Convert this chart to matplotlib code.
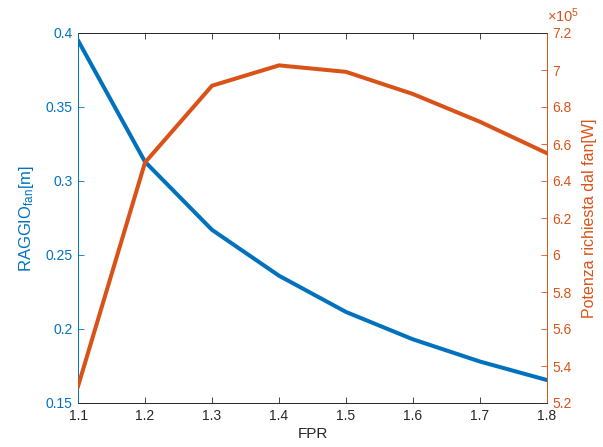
import matplotlib
matplotlib.use("Agg")
import matplotlib.pyplot as plt
from matplotlib.ticker import FuncFormatter, MultipleLocator

plt.rcParams['font.family'] = ['Liberation Sans', 'DejaVu Sans']
plt.rcParams['mathtext.fontset'] = 'custom'
plt.rcParams['mathtext.rm'] = 'Liberation Sans'
plt.rcParams['mathtext.it'] = 'Liberation Sans:italic'

fpr = [1.1, 1.2, 1.3, 1.4, 1.5, 1.6, 1.7, 1.8]
raggio = [0.395, 0.313, 0.267, 0.236, 0.2115, 0.193, 0.178, 0.1655]
potenza = [5.29e5, 6.50e5, 6.915e5, 7.025e5, 6.99e5, 6.87e5, 6.72e5, 6.55e5]

BLUE = '#0072BD'
ORANGE = '#D95319'
GRAY = '#262626'

fig = plt.figure(figsize=(6.03, 4.47), dpi=100)
ax = fig.add_axes([78/603, 1-403/447, (547-78)/603, (403-33)/447])
ax2 = ax.twinx()

ax.plot(fpr, raggio, color=BLUE, lw=2.9, solid_joinstyle='miter', zorder=3)
ax2.plot(fpr, potenza, color=ORANGE, lw=2.9, solid_joinstyle='miter', zorder=3)

ax.set_xlim(1.1, 1.8)
ax.set_ylim(0.15, 0.4)
ax2.set_ylim(5.2e5, 7.2e5)
ax.xaxis.set_major_locator(MultipleLocator(0.1))
ax.yaxis.set_major_locator(MultipleLocator(0.05))
ax2.yaxis.set_major_locator(MultipleLocator(0.2e5))

ax.xaxis.set_major_formatter(FuncFormatter(lambda v, p: f'{round(v, 6):g}'))
ax.yaxis.set_major_formatter(FuncFormatter(lambda v, p: f'{round(v, 6):g}'))
ax2.yaxis.set_major_formatter(FuncFormatter(lambda v, p: f'{round(v / 1e5, 6):g}'))

fs = 10
ax.tick_params(axis='x', direction='in', length=4, width=0.6, colors=GRAY,
               labelsize=fs, top=True, pad=4)
ax.tick_params(axis='y', direction='in', length=4, width=0.6, colors=BLUE,
               labelsize=fs, left=True, right=False, pad=4)
ax2.tick_params(axis='y', direction='in', length=4, width=0.6, colors=ORANGE,
                labelsize=fs, pad=4)

ax2.text(1.0, 1.0 + 11/370, r'$\times10^{5}$', transform=ax2.transAxes,
         ha='left', va='baseline', color=ORANGE, fontsize=10.5)

for a in (ax, ax2):
    a.spines['top'].set_color(GRAY)
    a.spines['bottom'].set_color(GRAY)
    for s in a.spines.values():
        s.set_linewidth(0.6)
ax.spines['left'].set_color(BLUE)
ax2.spines['left'].set_color(BLUE)
ax.spines['right'].set_color(ORANGE)
ax2.spines['right'].set_color(ORANGE)

ax.set_xlabel('FPR', fontsize=11, color=GRAY, labelpad=3)
ax.set_ylabel(r'RAGGIO$_{\mathrm{fan}}$[m]', fontsize=12, color=BLUE, labelpad=7)
ax2.set_ylabel('Potenza richiesta dal fan[W]', fontsize=11.5, color=ORANGE, labelpad=7)

fig.savefig('out.png', dpi=100)
